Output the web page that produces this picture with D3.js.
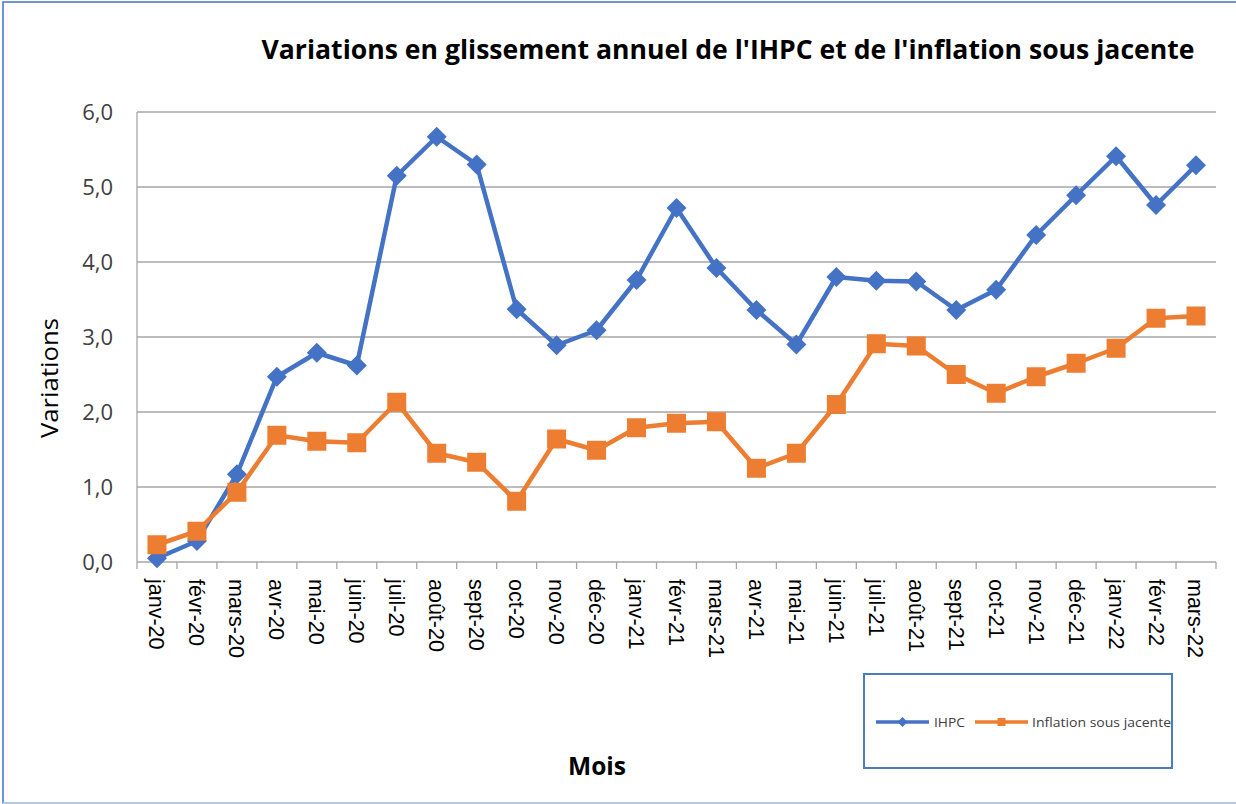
<!DOCTYPE html>
<html><head><meta charset="utf-8">
<script src="https://cdn.jsdelivr.net/npm/d3@7"></script>
<style>body{margin:0;background:#fff}svg{display:block}</style>
</head><body>
<script>
const months = ["janv-20","févr-20","mars-20","avr-20","mai-20","juin-20","juil-20","août-20","sept-20","oct-20","nov-20","déc-20","janv-21","févr-21","mars-21","avr-21","mai-21","juin-21","juil-21","août-21","sept-21","oct-21","nov-21","déc-21","janv-22","févr-22","mars-22"];
const ihpc = [0.05,0.28,1.17,2.47,2.79,2.62,5.15,5.67,5.30,3.37,2.89,3.09,3.76,4.72,3.92,3.36,2.90,3.80,3.75,3.74,3.36,3.63,4.36,4.89,5.41,4.76,5.29];
const sousJacente = [0.23,0.41,0.93,1.69,1.61,1.59,2.13,1.45,1.33,0.81,1.64,1.49,1.79,1.85,1.87,1.25,1.45,2.10,2.91,2.88,2.50,2.25,2.47,2.65,2.85,3.25,3.28];
const yTicks = [0,1,2,3,4,5,6];
const seriesNames = ["IHPC","Inflation sous jacente"];
const colors = ["#4472C4","#ED7D31"];

const W=1236,H=804;
const svg=d3.select("body").append("svg").attr("width",W).attr("height",H);
svg.append("rect").attr("x",3).attr("y",2).attr("width",W+10).attr("height",801).attr("fill","#fff").attr("stroke","#4472C4").attr("stroke-width",1.5);
svg.append("line").attr("x1",3).attr("x2",W).attr("y1",803).attr("y2",803).attr("stroke","#b4c7e7").attr("stroke-width",2);

const L=137,R=1216,T=112,B=562;
const x=d3.scaleBand().domain(months).range([L,R]);
const y=d3.scaleLinear().domain([0,6]).range([B,T]);

// gridlines
svg.append("g").selectAll("line").data(yTicks).join("line")
 .attr("x1",L).attr("x2",R).attr("y1",d=>y(d)).attr("y2",d=>y(d))
 .attr("stroke","#a6a6a6").attr("stroke-width",1.3);
svg.append("line").attr("x1",L).attr("x2",L).attr("y1",T).attr("y2",B).attr("stroke","#a6a6a6").attr("stroke-width",1.3);
// y labels
svg.append("g").selectAll("text").data(yTicks).join("text")
 .attr("x",113).attr("y",d=>y(d)).attr("dy","0.35em").attr("text-anchor","end")
 .attr("font-family","Open Sans, sans-serif").attr("font-size",22).attr("fill","#404040")
 .text(d=>d3.format(".1f")(d).replace(".",","));
// x ticks
const bounds=months.map(m=>x(m)).concat([R]);
svg.append("g").selectAll("line").data(bounds).join("line")
 .attr("x1",d=>d).attr("x2",d=>d).attr("y1",B).attr("y2",B+7).attr("stroke","#a6a6a6").attr("stroke-width",1.3);
// x labels
svg.append("g").selectAll("text").data(months).join("text")
 .attr("transform",d=>`translate(${x(d)+x.bandwidth()/2},579) rotate(90)`)
 .attr("dy","0.35em").attr("text-anchor","start")
 .attr("font-family","Liberation Sans, Arial, sans-serif").attr("font-size",21.5).attr("fill","#000")
 .text(d=>d);

const cx=d=>x(d)+x.bandwidth()/2;
const line=d3.line().x((d,i)=>cx(months[i])).y(d=>y(d));
[ihpc,sousJacente].forEach((s,k)=>{
 svg.append("path").datum(s).attr("d",line).attr("fill","none").attr("stroke",colors[k]).attr("stroke-width",4.5).attr("stroke-linejoin","round");
});
svg.append("g").selectAll("path").data(ihpc).join("path")
 .attr("d","M0,-10L10,0L0,10L-10,0Z")
 .attr("transform",(d,i)=>`translate(${cx(months[i])},${y(d)})`).attr("fill",colors[0]);
svg.append("g").selectAll("rect").data(sousJacente).join("rect")
 .attr("x",(d,i)=>cx(months[i])-9.5).attr("y",d=>y(d)-9.5).attr("width",19).attr("height",19).attr("fill",colors[1]);

// title
svg.append("text").attr("x",728).attr("y",59).attr("text-anchor","middle")
 .attr("font-family","Open Sans, sans-serif").attr("font-weight","bold").attr("font-size",27)
 .attr("textLength",933).attr("lengthAdjust","spacingAndGlyphs").attr("fill","#000")
 .text("Variations en glissement annuel de l'IHPC et de l'inflation sous jacente");
// axis titles
svg.append("text").attr("transform","translate(58,378) rotate(-90)").attr("text-anchor","middle")
 .attr("font-family","Open Sans, sans-serif").attr("font-size",23).attr("textLength",120).attr("lengthAdjust","spacingAndGlyphs").attr("fill","#000").text("Variations");
svg.append("text").attr("x",597).attr("y",775).attr("text-anchor","middle")
 .attr("font-family","Open Sans, sans-serif").attr("font-weight","bold").attr("font-size",25).attr("textLength",58).attr("lengthAdjust","spacingAndGlyphs").attr("fill","#000").text("Mois");

// legend
svg.append("rect").attr("x",864).attr("y",674).attr("width",308).attr("height",94).attr("fill","#fff").attr("stroke","#4a7ebb").attr("stroke-width",2);
const lg=[{x1:876,x2:929,tx:934,mk:"d",len:31},{x1:975,x2:1028,tx:1032,mk:"s",len:139}];
lg.forEach((l,k)=>{
 svg.append("line").attr("x1",l.x1).attr("x2",l.x2).attr("y1",722).attr("y2",722).attr("stroke",colors[k]).attr("stroke-width",3.5);
 const m=(l.x1+l.x2)/2;
 if(l.mk==="d") svg.append("path").attr("d",`M${m},717L${m+5},722L${m},727L${m-5},722Z`).attr("fill",colors[k]);
 else svg.append("rect").attr("x",m-4).attr("y",718).attr("width",8).attr("height",8).attr("fill",colors[k]);
 svg.append("text").attr("x",l.tx).attr("y",722).attr("dy","0.35em").attr("font-family","Open Sans, sans-serif").attr("font-size",13).attr("textLength",l.len).attr("lengthAdjust","spacingAndGlyphs").attr("fill","#404040").text(seriesNames[k]);
});
</script>
</body></html>
